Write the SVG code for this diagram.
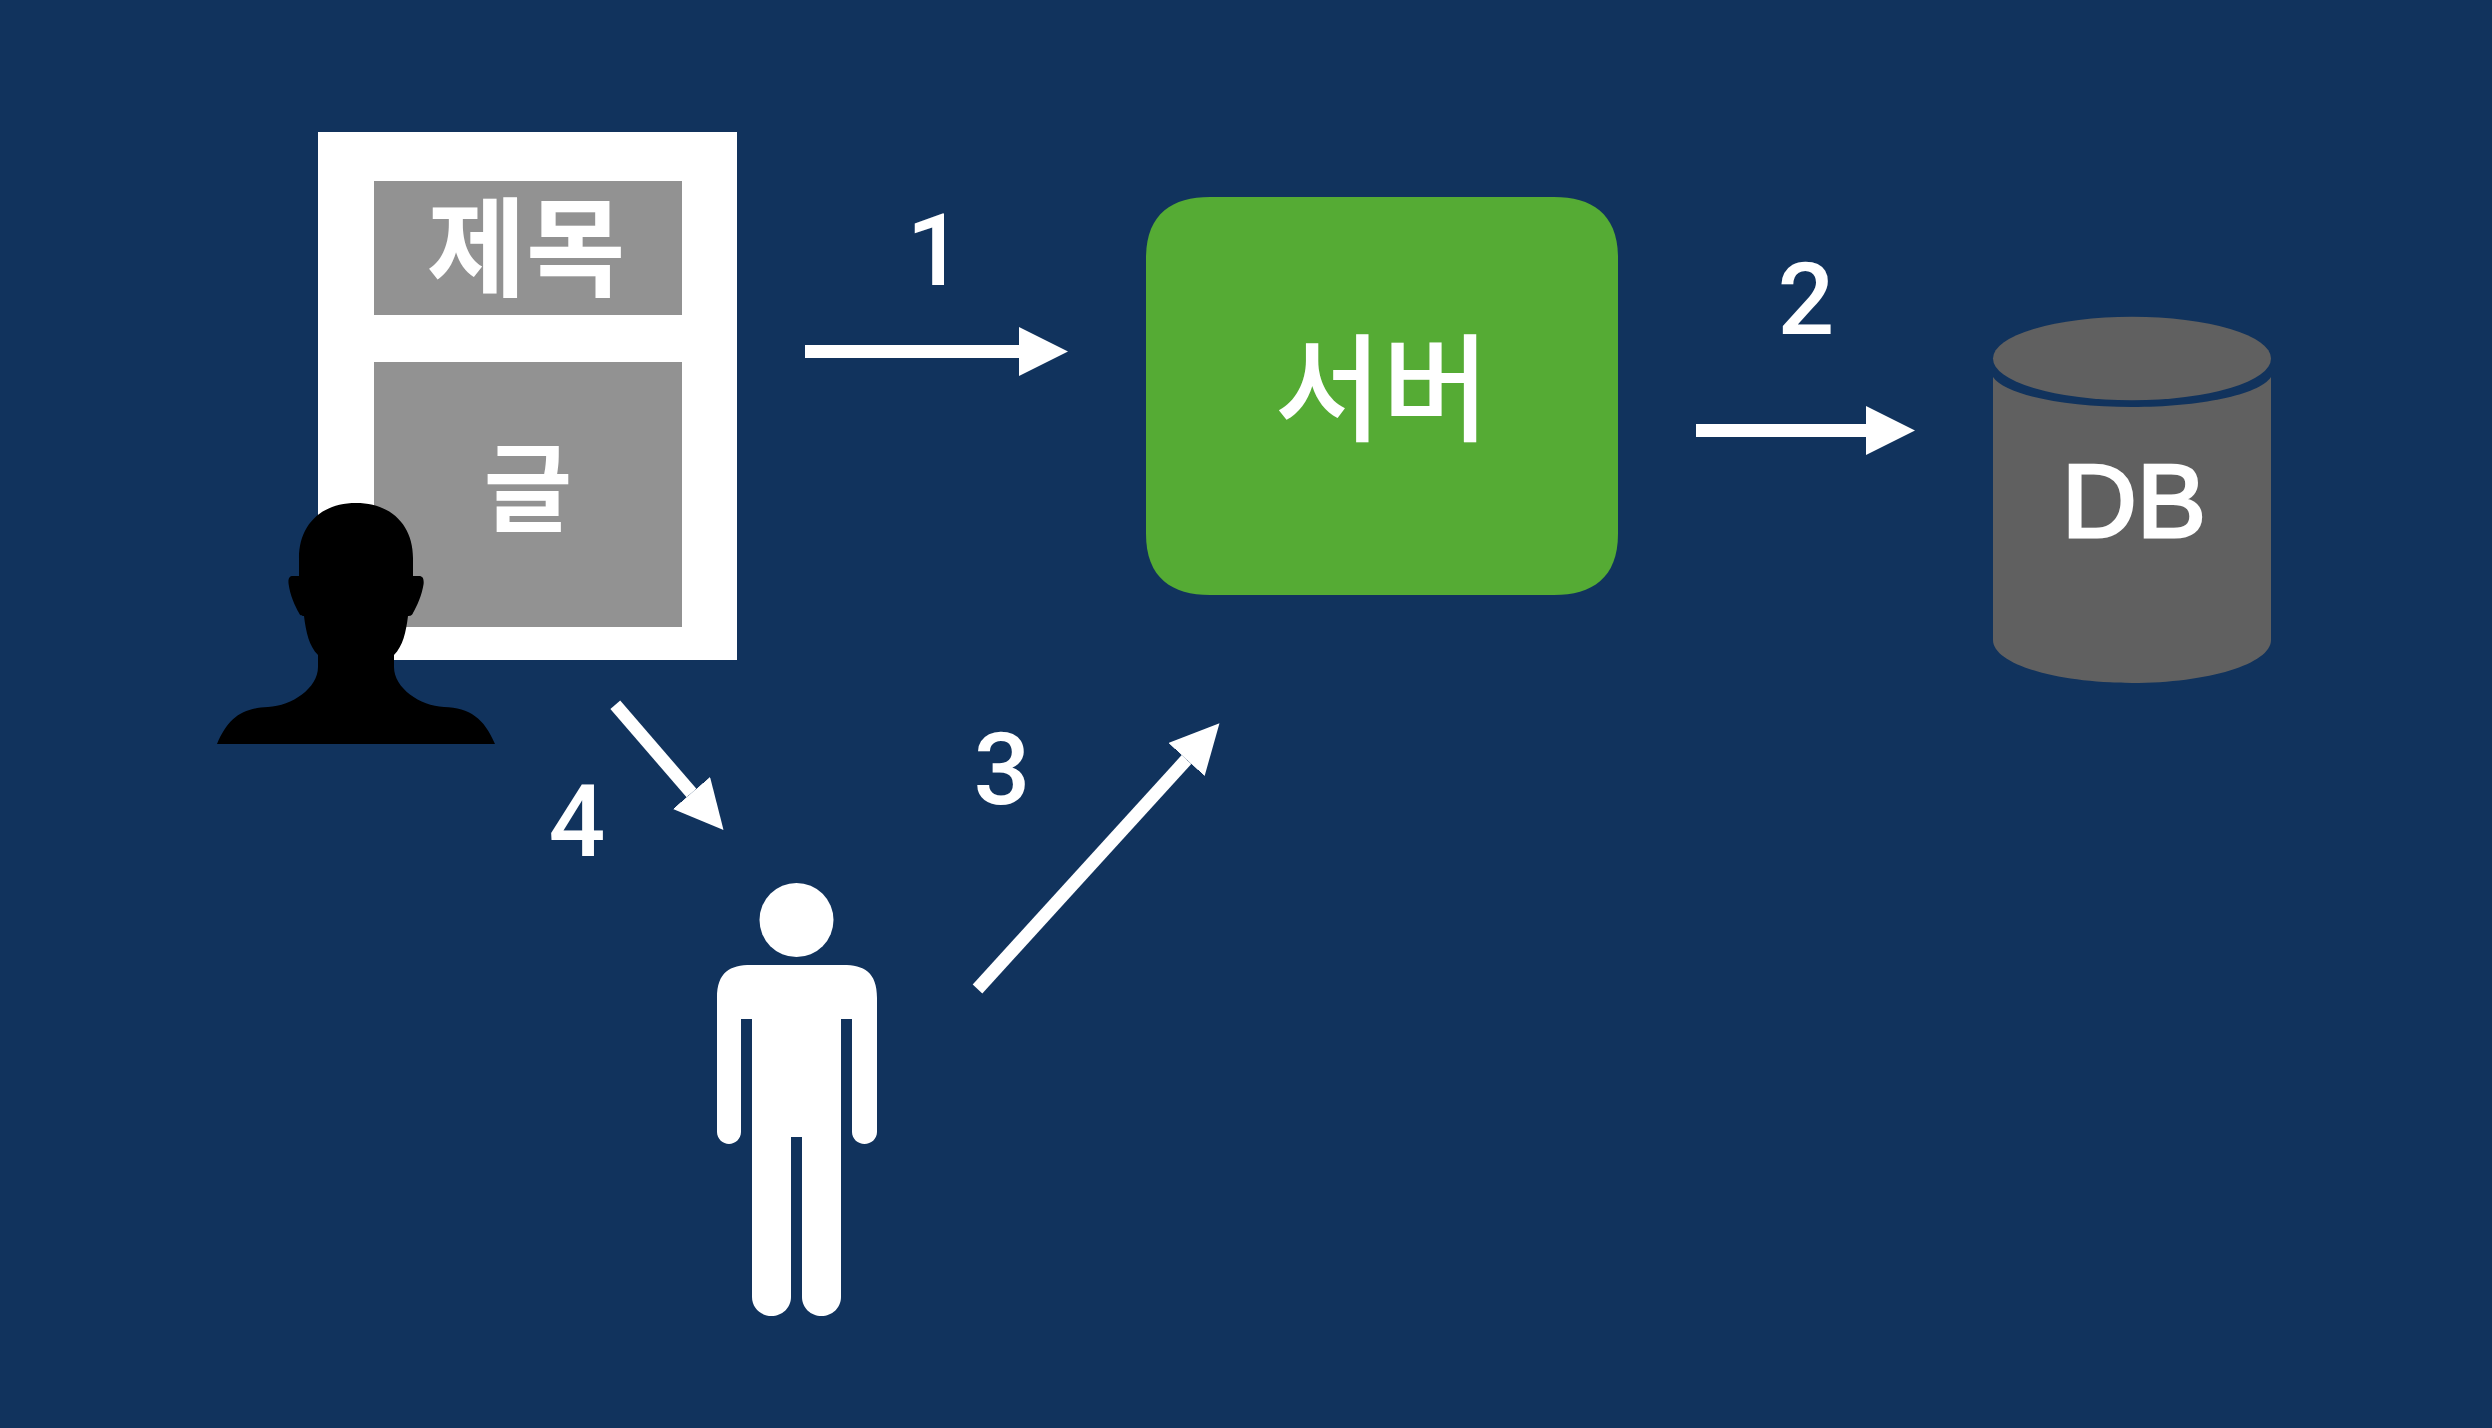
<svg xmlns="http://www.w3.org/2000/svg" width="2492" height="1428" viewBox="0 0 2492 1428">
<style>
.ko{font-family:"Noto Sans CJK KR","Noto Sans",sans-serif;fill:#fff;text-anchor:middle}
.lat{font-family:"Liberation Sans",Arial,sans-serif;fill:#fff;text-anchor:middle;stroke:#fff;stroke-width:3}
.num{font-family:Roboto,"Liberation Sans",sans-serif;font-size:100px;font-weight:500;fill:#fff;text-anchor:middle}
.gray{fill:#929292}
.white{fill:#fff}
.conn{stroke:#fff;stroke-width:13;fill:none;marker-end:url(#head)}
</style>
<defs>
<marker id="head" markerUnits="userSpaceOnUse" viewBox="0 0 49 49" refX="0" refY="24.5" markerWidth="49" markerHeight="49" orient="auto"><path d="M0 0L49 24.5L0 49Z" fill="#fff"/></marker>
</defs>
<rect width="2492" height="1428" fill="#11335d"/>
<g id="document">
<rect class="white" x="318" y="132" width="419" height="528"/>
<rect class="gray" x="374" y="181" width="308" height="134"/>
<rect class="gray" x="374" y="362" width="308" height="265"/>
<text class="ko" x="526" y="288" font-size="108" font-weight="700">제목</text>
<text class="ko" x="528" y="523" font-size="96" font-weight="700">글</text>
</g>
<g id="author">
<path fill="#000" d="M356 503C392 503 413 526 413 558L413 576L419 576C423 576 424 579 423.600 584C422 595 417 606 413 613C412 616 409 616 408 616C406 632 403 646 394 655L394 667C394 688 420 706 444 707C470 708 484 718 495 744L217 744C228 718 242 708 268 707C292 706 318 688 318 667L318 655C309 646 306 632 304 616C303 616 300 616 299 613C295 606 290 595 288.600 584C288 579 289 576 293 576L299 576L299 558C299 526 320 503 356 503Z"/>
</g>
<g id="server">
<path fill="#55ab34" d="M1210 197L1554 197C1592 197 1618 214 1618 258L1618 534C1618 578 1592 595 1554 595L1210 595C1172 595 1146 578 1146 534L1146 258C1146 214 1172 197 1210 197Z"/>
<text class="ko" x="1382" y="432" font-size="117" font-weight="500">서버</text>
</g>
<g id="database">
<path fill="#606060" d="M1993 377C2005 395 2065 407 2132 407C2199 407 2259 395 2271 377L2271 640C2271 664 2208 683 2132 683C2056 683 1993 664 1993 640Z"/>
<ellipse cx="2132" cy="358.500" rx="139" ry="41.700" fill="#606060"/>
<text class="lat" x="2134" y="537" font-size="104">DB</text>
</g>
<g id="reader">
<circle class="white" cx="796.500" cy="920" r="37"/>
<path class="white" d="M751 965L843 965C864 965 877 972 877 998L877 1132C877 1139 871 1144 864.500 1144C858 1144 852 1139 852 1132L852 1019L841 1019L841 1297C841 1308 832 1316 821.500 1316C811 1316 802 1308 802 1297L802 1137L791 1137L791 1297C791 1308 782 1316 771.500 1316C761 1316 752 1308 752 1297L752 1019L741 1019L741 1132C741 1139 735 1144 729 1144C723 1144 717 1139 717 1132L717 998C717 972 730 965 751 965Z"/>
</g>
<g id="connectors">
<line class="conn" x1="805" y1="351.500" x2="1019" y2="351.500"/>
<line class="conn" x1="1696" y1="430.500" x2="1866" y2="430.500"/>
<line class="conn" x1="977.500" y1="989" x2="1186.500" y2="759.500"/>
<line class="conn" x1="615.300" y1="704.800" x2="691.500" y2="793"/>
</g>
<g id="labels">
<text class="num" x="935" y="285">1</text>
<text class="num" x="1806" y="334">2</text>
<text class="num" x="1002" y="804">3</text>
<text class="num" x="577" y="856">4</text>
</g>
</svg>
